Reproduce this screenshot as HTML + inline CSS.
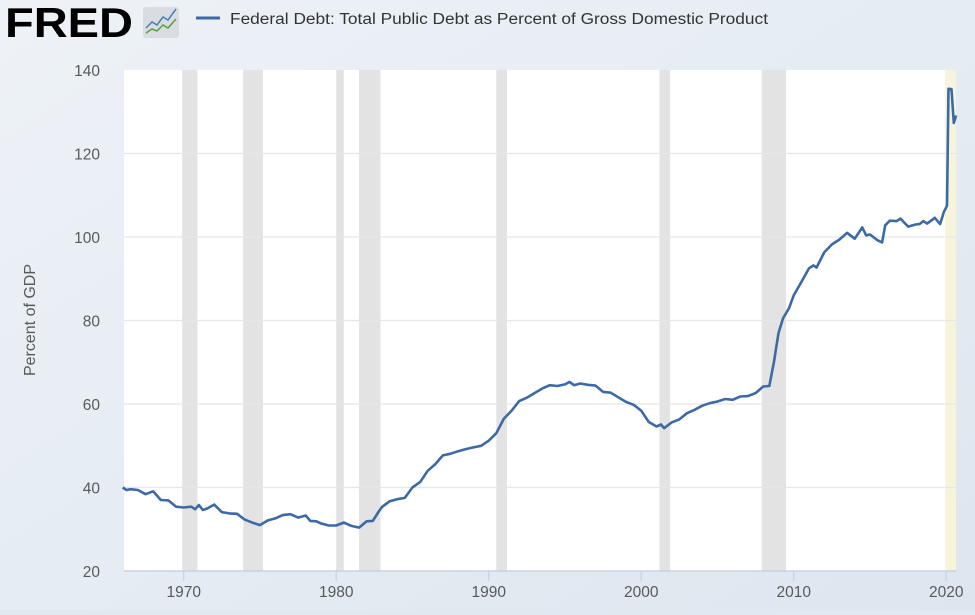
<!DOCTYPE html>
<html><head><meta charset="utf-8"><style>
body{margin:0;width:975px;height:610px;overflow:hidden;background:#e1e9f0;font-family:"Liberation Sans",sans-serif;}
</style></head><body>
<svg id="s" width="975" height="610" xmlns="http://www.w3.org/2000/svg">
<defs><linearGradient id="bg" x1="0" y1="0" x2="1" y2="1"><stop offset="0" stop-color="#eef2f7"/><stop offset="1" stop-color="#dde6ef"/></linearGradient></defs>
<rect width="975" height="610" fill="url(#bg)"/>
<text x="5" y="37" font-family="Liberation Sans" font-weight="bold" font-size="42" fill="#000" textLength="128" lengthAdjust="spacingAndGlyphs">FRED</text>
<rect x="143" y="7" width="36" height="31" rx="3" fill="#d9dde2"/>
<polyline points="146,28 152,22 157,25 163,17 168,20 176,9" fill="none" stroke="#4a7fb5" stroke-width="1.5"/>
<polyline points="146,33 152,29 157,31 163,25 168,28 176,19" fill="none" stroke="#5aa03c" stroke-width="1.5"/>
<line x1="196" y1="18" x2="220" y2="18" stroke="#3d6aa5" stroke-width="3"/>
<text x="230" y="24" font-size="15.5" fill="#333" textLength="538" lengthAdjust="spacingAndGlyphs">Federal Debt: Total Public Debt as Percent of Gross Domestic Product</text>
<rect x="124" y="70" width="832" height="501" fill="#fff"/>
<g id="rec" fill="#e3e3e3"></g>
<g id="grid" stroke="#e6e6e6" stroke-width="1.3"></g>
<line x1="124" y1="571" x2="956" y2="571" stroke="#c5d3e6" stroke-width="1.5"/>
<g id="lab" font-size="15.5" fill="#595959"></g>
<text transform="translate(35,320) rotate(-90)" text-anchor="middle" font-size="16" fill="#595959">Percent of GDP</text>
<path id="line" fill="none" stroke="#3d6aa5" stroke-width="2.6" stroke-linejoin="round"/>
</svg>
<script>
var X=function(y){return 183.7+(y-1970)*15.25;},Y=function(v){return 70+(140-v)*4.175;};
var ns="http://www.w3.org/2000/svg";
function el(t,a,p){var e=document.createElementNS(ns,t);for(var k in a)e.setAttribute(k,a[k]);document.getElementById(p).appendChild(e);return e;}
[[1969.9,1970.9],[1973.9,1975.2],[1980.0,1980.5],[1981.5,1982.9],[1990.5,1991.2],[2001.2,2001.9],[2007.9,2009.5]].forEach(function(r){el('rect',{x:X(r[0]),y:70,width:X(r[1])-X(r[0]),height:501},'rec');});
el('rect',{x:945,y:70,width:11,height:501,fill:'#f6f5dc'},'rec');
for(var v=40;v<=120;v+=20)el('line',{x1:124,x2:956,y1:Y(v),y2:Y(v)},'grid');
for(var v=20;v<=140;v+=20){var t=el('text',{x:100,y:Y(v)+6,'text-anchor':'end'},'lab');t.textContent=v;}
for(var yr=1970;yr<=2020;yr+=10){el('line',{x1:X(yr),x2:X(yr),y1:571,y2:581,stroke:'#c5d3e6','stroke-width':1.3},'lab');var t=el('text',{x:X(yr),y:597,'text-anchor':'middle'},'lab');t.textContent=yr;}
var d=[1966.0,40,1966.25,39.4,1966.5,39.6,1967,39.4,1967.5,38.4,1968,39.1,1968.5,37,1969,36.9,1969.5,35.4,1970,35.2,1970.5,35.4,1970.75,34.8,1971,35.8,1971.25,34.6,1971.5,34.9,1972,35.9,1972.5,34.1,1973,33.8,1973.5,33.7,1974,32.3,1974.5,31.6,1975,31.0,1975.5,32.1,1976,32.6,1976.5,33.4,1977,33.6,1977.5,32.8,1978,33.3,1978.3,32,1978.7,31.9,1979,31.4,1979.5,30.9,1980,30.9,1980.5,31.6,1981,30.8,1981.5,30.4,1982,31.9,1982.4,32.0,1982.75,34,1983,35.3,1983.5,36.7,1984,37.2,1984.5,37.5,1985,40,1985.5,41.3,1986,44,1986.5,45.6,1987,47.7,1987.5,48.1,1988,48.7,1988.5,49.2,1989,49.6,1989.5,50,1990,51.2,1990.5,53,1991,56.5,1991.5,58.4,1992,60.7,1992.5,61.5,1993,62.6,1993.5,63.7,1994,64.5,1994.5,64.3,1995,64.7,1995.3,65.3,1995.6,64.5,1996,64.9,1996.5,64.6,1997,64.4,1997.5,62.9,1998,62.7,1998.5,61.6,1999,60.5,1999.5,59.8,2000,58.4,2000.5,55.7,2001,54.6,2001.3,55.1,2001.5,54.2,2002,55.6,2002.5,56.3,2003,57.8,2003.5,58.6,2004,59.6,2004.5,60.2,2005,60.6,2005.5,61.2,2006,61,2006.5,61.8,2007,61.9,2007.5,62.6,2008,64.2,2008.4,64.3,2008.7,70,2009,77,2009.3,80.5,2009.7,83,2010,86,2010.5,89.2,2011,92.5,2011.3,93.2,2011.5,92.7,2012,96.3,2012.5,98.2,2013,99.4,2013.5,101,2014,99.6,2014.5,102.3,2014.75,100.4,2015,100.6,2015.5,99.2,2015.8,98.7,2016,102.8,2016.3,103.9,2016.75,103.8,2017,104.4,2017.5,102.5,2018,103,2018.25,103.1,2018.5,103.8,2018.75,103.2,2019,103.9,2019.25,104.6,2019.6,103.1,2019.85,106,2020.05,107.5,2020.15,135.5,2020.35,135.4,2020.5,127.3,2020.65,129.1];
var p='';for(var i=0;i<d.length;i+=2)p+=(i?'L':'M')+X(d[i]).toFixed(1)+','+Y(d[i+1]).toFixed(1);
document.getElementById('line').setAttribute('d',p);
</script>
</body></html>
